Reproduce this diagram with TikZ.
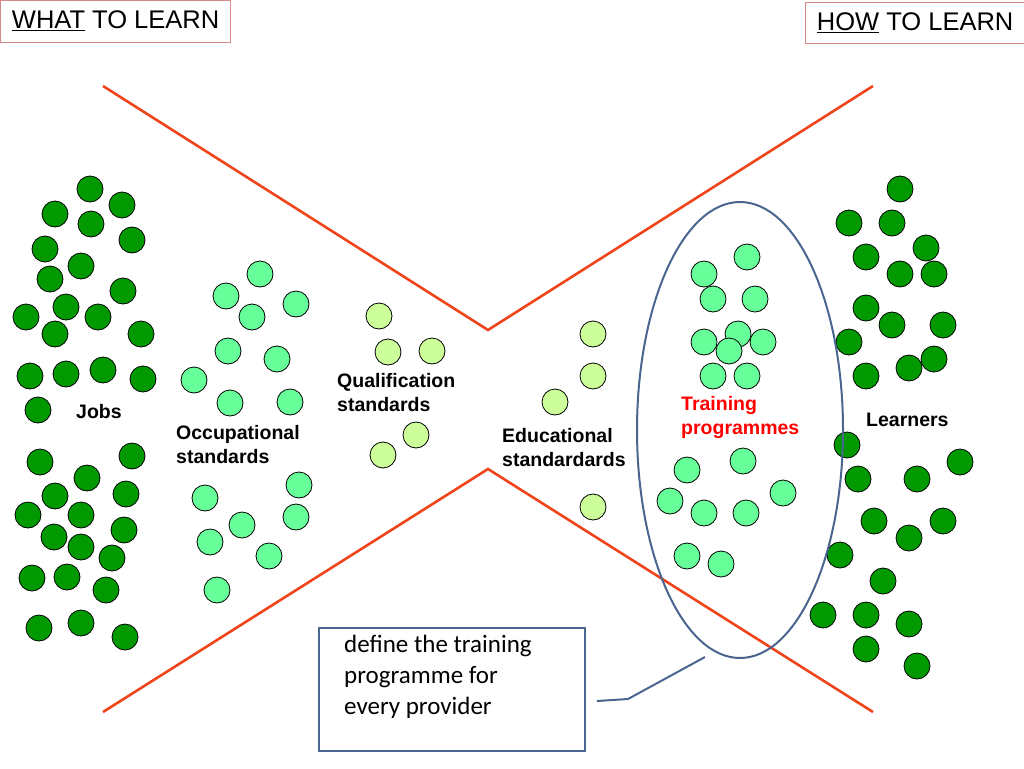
\documentclass[tikz,border=0pt]{standalone}
\usepackage{fontspec}
\setmainfont{Liberation Sans}
\newfontfamily\notefont{Carlito}
\usepackage{xcolor}
\usepackage{tikz}
\usetikzlibrary{calc, positioning, shapes.geometric}

\definecolor{funnel}{HTML}{F0441A}
\definecolor{darkdot}{HTML}{009A00}
\definecolor{minted}{HTML}{66FF99}
\definecolor{limedot}{HTML}{CCFF99}
\definecolor{frame}{HTML}{D48A8A}
\definecolor{outline}{HTML}{4A6690}

\tikzset{
	dot/.style = {draw = black, line width = 0.8pt},
	label/.style = {inner sep = 0pt, anchor = west, align = left, font = \fontsize{19.5}{24}\selectfont\bfseries},
	header/.style = {draw = frame, line width = 0.9pt, anchor = north west, inner xsep = 11.5pt, text height = 17pt, font = \fontsize{25.5}{28}\selectfont},
}

\begin{document}
\begin{tikzpicture}[x = 1pt, y = -1pt]
			\useasboundingbox (0,0) rectangle (1024,768);

			\node [header, minimum height = 42pt] (what) at (0,0) {\underline{WHAT} TO LEARN};
			\node [header, minimum height = 41pt] (how) at (805,2) {\underline{HOW} TO LEARN};

			\draw [funnel, line width = 2.6pt] (103,86) to (488,330) to (873,86);
			\draw [funnel, line width = 2.6pt] (103,712) to (488,469) to (873,712);

			\foreach \x/\y in {90/189, 122/205, 55/214, 91/224, 132/240, 45/249, 81/266, 50/279, 123/291, 66/307, 26/317, 98/317, 55/334, 141/334, 30/376, 66/374, 103/370, 143/379, 38/410, 40/462, 132/456, 87/478, 55/496, 126/494, 28/515, 81/515, 124/530, 54/537, 81/547, 112/558, 32/578, 67/577, 106/590, 39/628, 81/623, 125/637}
				\draw [dot, fill = darkdot] (\x,\y) circle (13pt);

			\foreach \x/\y in {260/274, 226/296, 296/304, 252/317, 228/351, 277/359, 194/380, 230/403, 290/402, 299/485, 205/498, 242/525, 296/517, 210/542, 269/556, 217/590}
				\draw [dot, fill = minted] (\x,\y) circle (13pt);

			\foreach \x/\y in {379/316, 388/352, 432/351, 416/435, 383/455, 593/334, 593/376, 555/402, 593/507}
				\draw [dot, fill = limedot] (\x,\y) circle (13pt);

			\foreach \x/\y in {747/257, 704/274, 713/299, 755/299, 704/342, 763/342, 738/334, 729/351, 713/376, 747/376, 743/461, 687/470, 783/493, 670/501, 704/513, 746/513, 687/556, 721/564}
				\draw [dot, fill = minted] (\x,\y) circle (13pt);

			\foreach \x/\y in {900/189, 849/223, 892/223, 926/248, 866/257, 900/274, 934/274, 866/308, 892/325, 943/325, 849/342, 934/359, 909/368, 866/376, 847/445, 960/462, 858/479, 917/479, 874/521, 943/521, 909/538, 840/555, 883/581, 823/615, 866/615, 909/624, 866/649, 917/666}
				\draw [dot, fill = darkdot] (\x,\y) circle (13pt);

			\draw [outline, line width = 2pt] (740,430) ellipse [x radius = 103pt, y radius = 228pt];

			\node [label] (jobs) at (76,412) {Jobs};
			\node [label] (occupational) at (176,445) {Occupational\\standards};
			\node [label] (qualification) at (337,393) {Qualification\\standards};
			\node [label] (educational) at (502,448) {Educational\\standardards};
			\node [label, text = red] (training) at (681,417) {Training\\programmes};
			\node [label] (learners) at (866,420) {Learners};

			\draw [outline, line width = 2pt] (319,628) rectangle (585,751);
			\node [inner sep = 0pt, anchor = base west, align = left, font = \notefont\fontsize{25}{31}\selectfont] (note) at (344,714) {define the training\\programme for\\every provider};

			\coordinate (tail) at (597,701);
			\coordinate (bend) at (628,699);
			\coordinate (tip) at (705,657);
			\draw [outline, line width = 2pt] (tail) to (bend) to (tip);
		\end{tikzpicture}
\end{document}
